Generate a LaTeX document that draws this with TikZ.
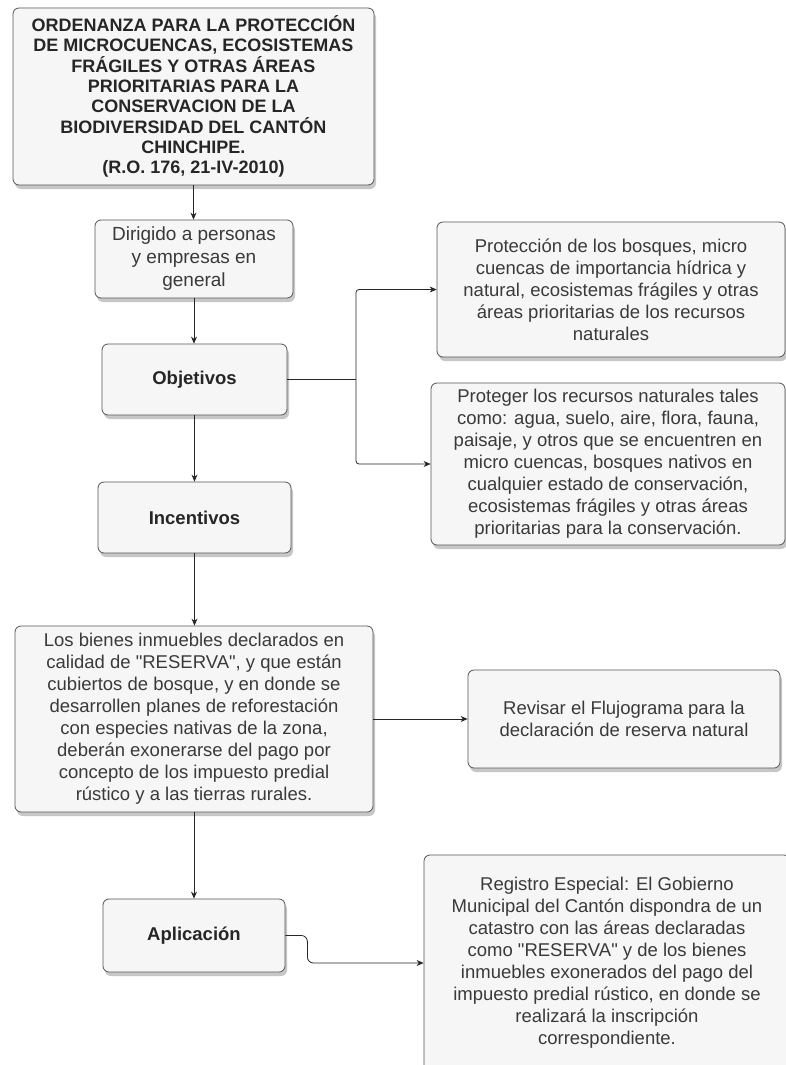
\documentclass[tikz,border=0pt]{standalone}
\usepackage{fontspec}
\setmainfont{Liberation Sans}
\usetikzlibrary{shadows,arrows.meta}
\definecolor{txt}{HTML}{3A3A3A}
\definecolor{bord}{HTML}{555555}
\definecolor{boxfill}{HTML}{F6F6F6}
\definecolor{lin}{HTML}{262626}
\tikzset{
  box/.style={draw=bord, line width=0.8pt, rounded corners=6pt, fill=boxfill,
    drop shadow={shadow xshift=2pt, shadow yshift=-4pt, fill=black!55, opacity=0.4},
    align=center, text=txt, inner sep=2pt,
    font=\fontsize{18.5}{22}\selectfont},
  boldbox/.style={box, text=black!85, font=\fontsize{18.5}{22}\selectfont\bfseries},
  conn/.style={draw=lin, line width=0.8pt},
  arr/.style={conn, -{Stealth[length=7pt,width=6pt]}}
}
\begin{document}
\begin{tikzpicture}[x=1pt,y=-1pt]
\useasboundingbox (0,0) rectangle (786,1065);
\clip (0,0) rectangle (786,1065);
\fill[white] (0,0) rectangle (786,1065);

\node[box, minimum width=361pt, minimum height=177pt, text=black!85,
  font=\fontsize{18}{20.3}\selectfont\bfseries] (top) at (193.5,96.5)
  {ORDENANZA PARA LA PROTECCIÓN\\DE MICROCUENCAS, ECOSISTEMAS\\FRÁGILES Y OTRAS ÁREAS\\PRIORITARIAS PARA LA\\CONSERVACION DE LA\\BIODIVERSIDAD DEL CANTÓN\\CHINCHIPE.\\(R.O. 176, 21-IV-2010)};

\node[box, minimum width=198pt, minimum height=78pt,
  font=\fontsize{19}{23}\selectfont] (dir) at (194,259)
  {Dirigido a personas\\y empresas en\\general};

\node[boldbox, minimum width=185pt, minimum height=71pt] (obj) at (194.5,379.5) {Objetivos};

\node[boldbox, minimum width=193pt, minimum height=71pt] (inc) at (194.5,517.5) {Incentivos};

\node[box, minimum width=358pt, minimum height=186pt] (lbi) at (194,719)
  {Los bienes inmuebles declarados en\\calidad de \textquotedbl RESERVA\textquotedbl, y que están\\cubiertos de bosque, y en donde se\\desarrollen planes de reforestación\\con especies nativas de la zona,\\deberán exonerarse del pago por\\concepto de los impuesto predial\\rústico y a las tierras rurales.};

\node[boldbox, minimum width=182pt, minimum height=73pt] (apl) at (194,935.5) {Aplicación};

\node[box, minimum width=348pt, minimum height=135pt] (b1) at (611,289.5)
  {Protección de los bosques, micro\\cuencas de importancia hídrica y\\natural, ecosistemas frágiles y otras\\áreas prioritarias de los recursos\\naturales};

\node[box, minimum width=354pt, minimum height=162pt] (b2) at (608,464)
  {Proteger los recursos naturales tales\\como: agua, suelo, aire, flora, fauna,\\paisaje, y otros que se encuentren en\\micro cuencas, bosques nativos en\\cualquier estado de conservación,\\ecosistemas frágiles y otras áreas\\prioritarias para la conservación.};

\node[box, minimum width=312pt, minimum height=98pt] (rev) at (624,719)
  {Revisar el Flujograma para la\\declaración de reserva natural};

\node[box, minimum width=366pt, minimum height=216pt] (reg) at (607,963)
  {Registro Especial: El Gobierno\\Municipal del Cantón dispondra de un\\catastro con las áreas declaradas\\como \textquotedbl RESERVA\textquotedbl{} y de los bienes\\inmuebles exonerados del pago del\\impuesto predial rústico, en donde se\\realizará la inscripción\\correspondiente.};

% vertical chain
\draw[arr] (top.south) -- (top.south |- dir.north);
\draw[arr] (dir.south) -- (dir.south |- obj.north);
\draw[arr] (obj.south) -- (obj.south |- inc.north);
\draw[arr] (inc.south) -- (inc.south |- lbi.north);
\draw[arr] (lbi.south) -- (lbi.south |- apl.north);

% objetivos branches
\coordinate (j) at (356,379.5);
\draw[conn] (obj.east) -- (j);
\draw[arr, rounded corners=3pt] (j) |- (b1.west);
\draw[arr, rounded corners=3pt] (j) |- (b2.west);

% side arrows
\draw[arr] (lbi.east) -- (rev.west);
\draw[arr, rounded corners=6pt] (apl.east) -- ++(22,0) |- (reg.west);
\end{tikzpicture}
\end{document}
